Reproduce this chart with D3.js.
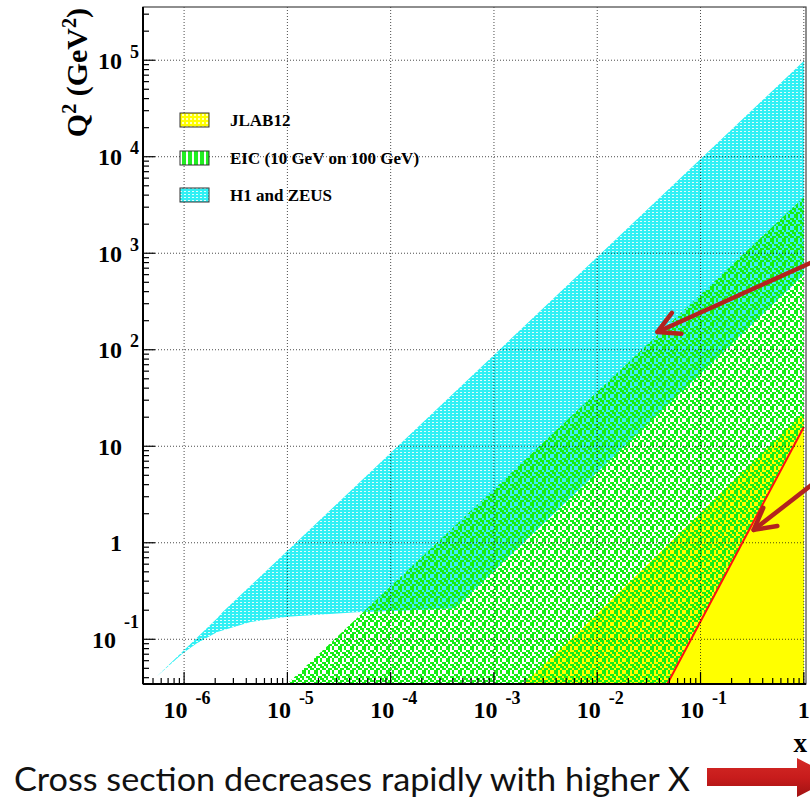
<!DOCTYPE html>
<html>
<head>
<meta charset="utf-8">
<script src="https://cdn.jsdelivr.net/npm/d3@7"></script>
<style>
  body { margin: 0; background: #fff; }
  svg { display: block; }
</style>
</head>
<body>
<svg id="chart" width="810" height="799"></svg>
<script>
// ---- kinematic coverage data (x, Q^2 in GeV^2) ----
const xDomain = [4e-7, 1.05];
const yDomain = [0.0344, 3.56e5];
const xDecades = [-6, -5, -4, -3, -2, -1, 0];
const yDecades = [-1, 0, 1, 2, 3, 4, 5];

// H1 and ZEUS measured region outline
const h1X  = [5.4e-7, 2.1e-6, 2.35e-6, 1.0, 1.0, 4.2e-4, 4.7e-5, 1.0e-5, 4.4e-6, 2.1e-6, 1.33e-6, 9.8e-7];
const h1Q2 = [0.041, 0.166, 0.19, 9.8e4, 600, 0.21, 0.19, 0.171, 0.151, 0.119, 0.091, 0.072];

// EIC (10 GeV on 100 GeV) reach
const eicX  = [9.9e-6, 1.0, 1.0];
const eicQ2 = [0.0344, 3800, 0.0344];

// JLAB12 reach
const jlabX  = [1.93e-3, 6.9e-3, 0.167, 1.0, 1.0];
const jlabQ2 = [0.0344, 0.125, 3.5, 22, 0.0344];

// resonance-region cut line (solid yellow to its right)
const cutX  = [0.0477, 1.0];
const cutQ2 = [0.0344, 15.85];

const legendLabels = ["JLAB12", "EIC (10 GeV on 100 GeV)", "H1 and ZEUS"];

// annotation arrows: [tailX, tailQ2, tipX, tipQ2]
const arrowNotes = [
  [1.22, 813, 0.0383, 152.8],
  [1.22, 4.06, 0.327, 1.36]
];

// ---- layout ----
const L = 143, R = 806, T = 7, B = 684;
const svg = d3.select("#chart");
const x = d3.scaleLog().domain(xDomain).range([L, R]);
const y = d3.scaleLog().domain(yDomain).range([B, T]);
const serif = "'Liberation Serif', 'Times New Roman', serif";

const defs = svg.append("defs");
defs.append("clipPath").attr("id", "plotClip")
  .append("rect").attr("x", L).attr("y", T).attr("width", R - L).attr("height", B - T);

// tiled fill: background colour plus a mask of cells drawn in a second colour
function makePattern(id, rows, cw, ch, bg, color) {
  const h = rows.length * ch, w = rows[0].length * cw;
  const p = defs.append("pattern").attr("id", id)
    .attr("patternUnits", "userSpaceOnUse").attr("width", w).attr("height", h);
  p.append("rect").attr("width", w).attr("height", h).attr("fill", bg);
  let d = "";
  rows.forEach((row, r) => [...row].forEach((c, k) => {
    if (c === "#") d += `M${k * cw},${r * ch}h${cw}v${ch}h${-cw}z`;
  }));
  p.append("path").attr("d", d).attr("fill", color).attr("shape-rendering", "crispEdges");
}
// '#' = gap between the green marks
const greenMask = ["#..#.#", ".#.##.", "..#..#", "#.##..", ".#..#.", "#..#.#"];
makePattern("cyanFill", ["..", "..", "#."], 2, 1, "#30f0f4", "#e0fcfc");
makePattern("yellowFill", ["..", ".#"], 2, 2, "#ffff00", "#ffffc0");
makePattern("greenWhite", greenMask, 2, 2, "#14ee14", "#ffffff");
makePattern("greenCyan", greenMask, 2, 2, "#14ee14", "#40eef2");
makePattern("greenYellow", greenMask, 2, 2, "#14ee14", "#ffff00");
makePattern("eicKey", ["#.."], 2, 2, "#22ee22", "#ffffff");

defs.append("clipPath").attr("id", "eicClip").append("path").attr("id", "eicShape");

const area = (xs, qs) => "M" + xs.map((v, i) => [x(v), y(qs[i])].join(",")).join("L") + "Z";
const lineOf = (xs, qs) => "M" + xs.map((v, i) => [x(v), y(qs[i])].join(",")).join("L");
d3.select("#eicShape").attr("d", area(eicX, eicQ2));

const plot = svg.append("g").attr("clip-path", "url(#plotClip)");
plot.append("path").attr("d", area(eicX, eicQ2)).attr("fill", "url(#greenWhite)");
plot.append("path").attr("d", area(h1X, h1Q2)).attr("fill", "url(#cyanFill)");
// H1/ZEUS over EIC: green marks on cyan
plot.append("g").attr("clip-path", "url(#eicClip)")
  .append("path").attr("d", area(h1X, h1Q2)).attr("fill", "url(#greenCyan)");
plot.append("path").attr("d", area(jlabX, jlabQ2)).attr("fill", "url(#greenYellow)");
// solid yellow beyond the cut
plot.append("path").attr("d", area(cutX.concat([1.0]), cutQ2.concat([yDomain[0]])))
  .attr("fill", "#ffff00");
plot.append("path").attr("d", lineOf(cutX, cutQ2))
  .attr("fill", "none").attr("stroke", "#ff1010").attr("stroke-width", 2);

// grid
const grid = svg.append("g").attr("stroke", "#111").attr("stroke-width", 1)
  .attr("stroke-dasharray", "1,2").attr("opacity", 0.75);
xDecades.forEach(d => grid.append("line")
  .attr("x1", x(10 ** d)).attr("x2", x(10 ** d)).attr("y1", T).attr("y2", B));
yDecades.forEach(d => grid.append("line")
  .attr("x1", L).attr("x2", R).attr("y1", y(10 ** d)).attr("y2", y(10 ** d)));

// frame
svg.append("rect").attr("x", L).attr("y", T).attr("width", R - L).attr("height", B - T)
  .attr("fill", "none").attr("stroke", "#444").attr("stroke-width", 1.2);
svg.append("line").attr("x1", L).attr("x2", L).attr("y1", T).attr("y2", B)
  .attr("stroke", "#000").attr("stroke-width", 2);
svg.append("line").attr("x1", L).attr("x2", R).attr("y1", B).attr("y2", B)
  .attr("stroke", "#000").attr("stroke-width", 2);

// ticks
function logTicks(domain) {
  const out = [];
  const lo = Math.floor(Math.log10(domain[0])), hi = Math.ceil(Math.log10(domain[1]));
  for (let d = lo; d <= hi; d++) for (let k = 1; k <= 9; k++) {
    const v = k * 10 ** d;
    if (v >= domain[0] && v <= domain[1]) out.push({ v, major: k === 1 });
  }
  return out;
}
const ticks = svg.append("g").attr("stroke", "#000").attr("stroke-width", 1.2);
logTicks(xDomain).forEach(t => ticks.append("line")
  .attr("x1", x(t.v)).attr("x2", x(t.v)).attr("y1", B).attr("y2", B - (t.major ? 12 : 6)));
logTicks(yDomain).forEach(t => ticks.append("line")
  .attr("y1", y(t.v)).attr("y2", y(t.v)).attr("x1", L).attr("x2", L + (t.major ? 12 : 6)));

// tick labels
const labels = svg.append("g").attr("font-family", serif).attr("font-weight", "bold").attr("fill", "#000");
const expText = d => (d < 0 ? "-" + (-d) : String(d));
yDecades.forEach(d => {
  const yy = y(10 ** d) + 8.5;
  if (d === 0 || d === 1) {
    labels.append("text").attr("x", 122).attr("y", yy).attr("text-anchor", "end")
      .attr("font-size", 24).text(d === 0 ? "1" : "10");
  } else {
    const t = labels.append("text").attr("x", 139).attr("y", yy).attr("text-anchor", "end")
      .attr("font-size", 24);
    t.append("tspan").text("10");
    t.append("tspan").attr("dx", 8).attr("dy", d < 0 ? -20 : -11).attr("font-size", 18).text(expText(d));
  }
});
xDecades.forEach(d => {
  if (d === 0) {
    labels.append("text").attr("x", x(1)).attr("y", 718).attr("text-anchor", "middle")
      .attr("font-size", 24).text("1");
  } else {
    const t = labels.append("text").attr("x", x(10 ** d) + 3).attr("y", 718)
      .attr("text-anchor", "middle").attr("font-size", 24);
    t.append("tspan").text("10");
    t.append("tspan").attr("dx", 8).attr("dy", -14).attr("font-size", 18).text(expText(d));
  }
});

// axis titles
labels.append("text").attr("x", 807).attr("y", 752).attr("text-anchor", "end")
  .attr("font-size", 27).text("x");
const yt = labels.append("text").attr("transform", "translate(87,8) rotate(-90)")
  .attr("text-anchor", "end").attr("font-size", 30);
yt.append("tspan").text("Q");
yt.append("tspan").attr("dy", -11).attr("font-size", 20).text("2");
yt.append("tspan").attr("dy", 11).text(" (GeV");
yt.append("tspan").attr("dy", -11).attr("font-size", 20).text("2");
yt.append("tspan").attr("dy", 11).text(")");

// legend
const keyFills = ["url(#yellowFill)", "url(#eicKey)", "url(#cyanFill)"];
const keyTop = [113, 151, 188];
legendLabels.forEach((lab, i) => {
  svg.append("rect").attr("x", 180).attr("y", keyTop[i]).attr("width", 29).attr("height", 14)
    .attr("fill", keyFills[i]).attr("stroke", "#333").attr("stroke-width", 1);
  svg.append("text").attr("x", 230).attr("y", keyTop[i] + 13)
    .attr("font-family", serif).attr("font-weight", "bold").attr("font-size", 17)
    .text(lab);
});

// annotation arrows pointing into the plot
const arrowColor = "#b3231f";
arrowNotes.forEach(([tx, tq, hx, hq]) => {
  const x0 = x(tx), y0 = y(tq), x1 = x(hx), y1 = y(hq);
  const ang = Math.atan2(y0 - y1, x0 - x1);
  const len = 24, spread = 0.5;
  const b1 = [x1 + len * Math.cos(ang + spread), y1 + len * Math.sin(ang + spread)];
  const b2 = [x1 + len * Math.cos(ang - spread), y1 + len * Math.sin(ang - spread)];
  svg.append("path").attr("d", `M${x0},${y0}L${x1},${y1}`)
    .attr("stroke", arrowColor).attr("stroke-width", 4.5).attr("stroke-linecap", "round");
  svg.append("path").attr("d", `M${b1[0]},${b1[1]}L${x1},${y1}L${b2[0]},${b2[1]}`)
    .attr("fill", "none").attr("stroke", arrowColor).attr("stroke-width", 4.5)
    .attr("stroke-linecap", "round").attr("stroke-linejoin", "round");
});

// caption with block arrow
svg.append("text").attr("x", 14).attr("y", 791)
  .attr("font-family", "Lato, 'Open Sans', sans-serif").attr("font-size", 32)
  .attr("fill", "#111").attr("textLength", 676).attr("lengthAdjust", "spacingAndGlyphs")
  .text("Cross section decreases rapidly with higher X");
const grad = defs.append("linearGradient").attr("id", "arrowGrad")
  .attr("x1", 0).attr("x2", 0).attr("y1", 0).attr("y2", 1);
grad.append("stop").attr("offset", "0%").attr("stop-color", "#d42a26");
grad.append("stop").attr("offset", "50%").attr("stop-color", "#c81c1c");
grad.append("stop").attr("offset", "100%").attr("stop-color", "#a01212");
svg.append("path")
  .attr("d", "M707,768L797,768L797,758L834,777.5L797,797L797,786L707,786Z")
  .attr("fill", "url(#arrowGrad)");
</script>
</body>
</html>
